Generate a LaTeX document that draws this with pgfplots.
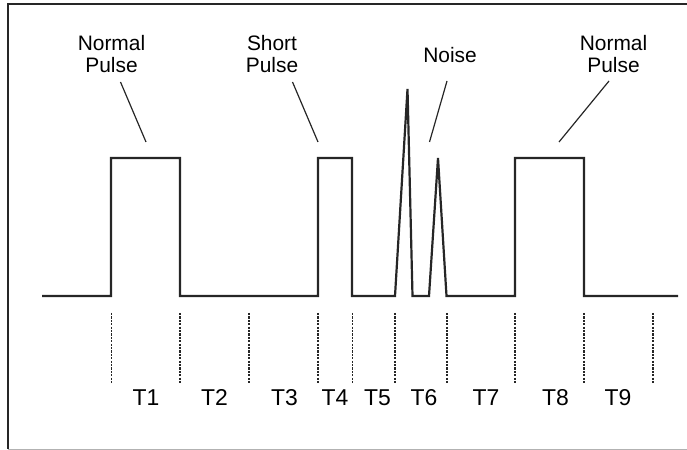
\documentclass[border=0pt]{standalone}
\usepackage{pgfplots}
\pgfplotsset{compat=1.18}
\usepackage{fontspec}
\setmainfont{Liberation Sans}

% pulse train, in picture units (x right, y down)
\pgfplotstableread{
x y
42 296
111 296
111 158
180 158
180 296
318 296
318 158
352 158
352 296
395 296
407.5 89
412.5 296
429 296
438 158
446.5 296
515 296
515 158
584 158
584 296
678 296
}\pulse

\begin{document}
\begin{tikzpicture}
\begin{axis}[
    width=687bp, height=450bp, scale only axis,
    xmin=0, xmax=687, ymin=0, ymax=450, y dir=reverse,
    hide axis, clip=false,
    unbounded coords=jump,
]
% frame
\addplot[draw=black!85, line width=2bp] coordinates {(8,449) (8,4.5) (687,4.5)};
\addplot[draw=black!30, line width=1bp] coordinates {(8,449.5) (687,449.5)};

% signal
\addplot[draw=black!85, line width=2.2bp, line join=miter] table {\pulse};

% interval markers
\addplot[draw=black!85, line width=1.2bp, dash pattern=on 2.2bp off 1.2bp] coordinates {
(111.5,313) (111.5,383) (111.5,nan)
(180,313) (180,383) (180,nan)
(249,313) (249,383) (249,nan)
(318,313) (318,383) (318,nan)
(352.5,313) (352.5,383) (352.5,nan)
(395,313) (395,383) (395,nan)
(447,313) (447,383) (447,nan)
(515,313) (515,383) (515,nan)
(584,313) (584,383) (584,nan)
(653,313) (653,383)
};

% leader lines
\addplot[draw=black!85, line width=1.2bp] coordinates {
(120.5,82) (146,142) (146,nan)
(292.5,82) (318,142) (318,nan)
(447,81) (429.5,142) (429.5,nan)
(609,81) (559,142)
};

\begin{scope}[every node/.style={inner sep=0pt, align=center, font=\fontsize{21}{23}\selectfont}]
\node at (axis cs:111.5,54) {Normal\\Pulse};
\node at (axis cs:272,54) {Short\\Pulse};
\node at (axis cs:450,55) {Noise};
\node at (axis cs:613.5,54) {Normal\\Pulse};
\end{scope}
\begin{scope}[every node/.style={inner sep=0pt, font=\fontsize{23}{25}\selectfont}]
\node at (axis cs:146,398) {T1};
\node at (axis cs:214.5,398) {T2};
\node at (axis cs:284.5,398) {T3};
\node at (axis cs:335,398) {T4};
\node at (axis cs:377.5,398) {T5};
\node at (axis cs:424,398) {T6};
\node at (axis cs:486,398) {T7};
\node at (axis cs:555.5,398) {T8};
\node at (axis cs:618,398) {T9};
\end{scope}
\end{axis}
\pgfresetboundingbox
\path[use as bounding box] (current axis.south west) rectangle (current axis.north east);
\end{tikzpicture}
\end{document}
